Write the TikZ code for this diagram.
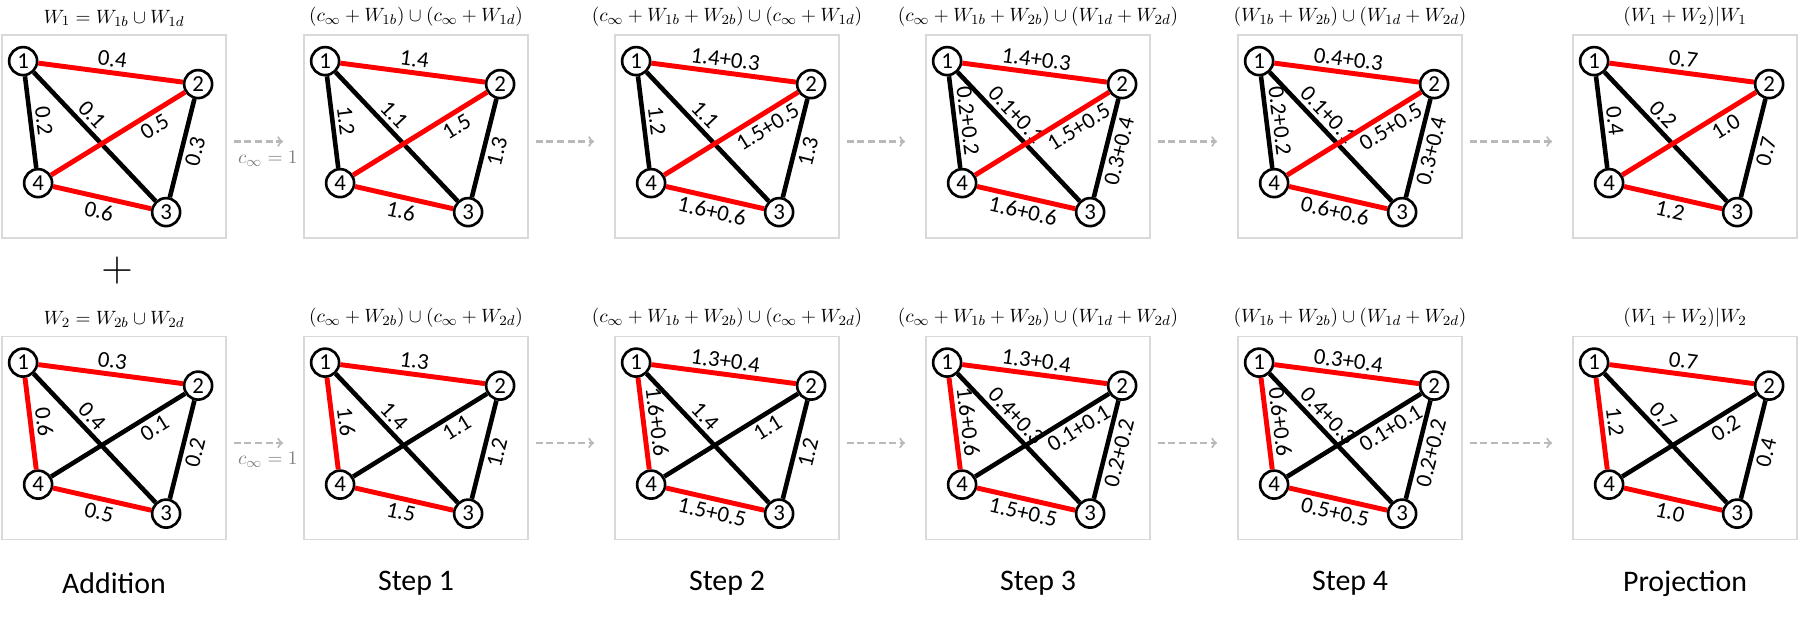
\documentclass[tikz,border=0pt]{standalone}
\usepackage{fontspec}
\setsansfont{Carlito}
\usetikzlibrary{positioning}

\tikzset{
  panelbox/.style={draw=black!15,line width=1pt,minimum width=4.48cm,minimum height=4.06cm,inner sep=0pt},
  vertex/.style={circle,draw,line width=1.5pt,fill=white,minimum size=0.56cm,inner sep=0pt,font=\sffamily\fontsize{13}{13}\selectfont},
  redge/.style={red,line width=2.8pt},
  kedge/.style={black,line width=2.6pt},
  wlabel/.style={text=black,font=\sffamily\fontsize{13}{13}\selectfont,sloped,inner sep=2pt},
  heading/.style={font=\fontsize{11}{13}\selectfont},
  stepname/.style={font=\sffamily\fontsize{17}{17}\selectfont},
  flow/.style={->,gray!55,line width=1.2pt,dashed,dash pattern=on 4pt off 2pt}
}

% one graph panel: #1 name, #2 position, #3 title, #4..#9 weights 12,14,13,24,23,43
\newcommand{\graphpanel}[9]{%
  \node[panelbox] (#1) at (#2) {};
  \node[heading,above=1pt of #1.north] (#1t) {$#3$};
  \node[vertex] (#1v1) at ([xshift=0.44cm,yshift=-0.54cm]#1.north west) {1};
  \node[vertex] (#1v2) at ([xshift=3.94cm,yshift=-1.0cm]#1.north west) {2};
  \node[vertex] (#1v4) at ([xshift=0.74cm,yshift=-2.98cm]#1.north west) {4};
  \node[vertex] (#1v3) at ([xshift=3.30cm,yshift=-3.56cm]#1.north west) {3};
  \draw[redge] (#1v1) -- (#1v2) node[wlabel,midway,above] {#4};
  \draw[\edgeA] (#1v4) -- (#1v1) node[wlabel,midway,above] {#5};
  \draw[kedge] (#1v1) -- (#1v3) node[wlabel,pos=0.4,above] {#6};
  \draw[\edgeB] (#1v4) -- (#1v2) node[wlabel,pos=0.72,below] {#7};
  \draw[kedge] (#1v3) -- (#1v2) node[wlabel,midway,below] {#8};
  \draw[redge] (#1v4) -- (#1v3) node[wlabel,midway,below] {#9};
}

\begin{document}
\begin{tikzpicture}

\useasboundingbox (0,0) rectangle (36,-12.8);

%top row
\def\edgeA{kedge}\def\edgeB{redge}
\graphpanel{a1}{2.28,-2.73}{W_1=W_{1b}\cup W_{1d}}{0.4}{0.2}{0.1}{0.5}{0.3}{0.6}
\graphpanel{a2}{8.32,-2.73}{(c_\infty+W_{1b})\cup(c_\infty+W_{1d})}{1.4}{1.2}{1.1}{1.5}{1.3}{1.6}
\graphpanel{a3}{14.54,-2.73}{(c_\infty+W_{1b}+W_{2b})\cup(c_\infty+W_{1d})}{1.4+0.3}{1.2}{1.1}{1.5+0.5}{1.3}{1.6+0.6}
\graphpanel{a4}{20.76,-2.73}{(c_\infty+W_{1b}+W_{2b})\cup(W_{1d}+W_{2d})}{1.4+0.3}{0.2+0.2}{0.1+0.1}{1.5+0.5}{0.3+0.4}{1.6+0.6}
\graphpanel{a5}{27.00,-2.73}{(W_{1b}+W_{2b})\cup(W_{1d}+W_{2d})}{0.4+0.3}{0.2+0.2}{0.1+0.1}{0.5+0.5}{0.3+0.4}{0.6+0.6}
\graphpanel{a6}{33.70,-2.73}{(W_1+W_2)|W_1}{0.7}{0.4}{0.2}{1.0}{0.7}{1.2}

%bottom row
\def\edgeA{redge}\def\edgeB{kedge}
\graphpanel{b1}{2.28,-8.76}{W_2=W_{2b}\cup W_{2d}}{0.3}{0.6}{0.4}{0.1}{0.2}{0.5}
\graphpanel{b2}{8.32,-8.76}{(c_\infty+W_{2b})\cup(c_\infty+W_{2d})}{1.3}{1.6}{1.4}{1.1}{1.2}{1.5}
\graphpanel{b3}{14.54,-8.76}{(c_\infty+W_{1b}+W_{2b})\cup(c_\infty+W_{2d})}{1.3+0.4}{1.6+0.6}{1.4}{1.1}{1.2}{1.5+0.5}
\graphpanel{b4}{20.76,-8.76}{(c_\infty+W_{1b}+W_{2b})\cup(W_{1d}+W_{2d})}{1.3+0.4}{1.6+0.6}{0.4+0.3}{0.1+0.1}{0.2+0.2}{1.5+0.5}
\graphpanel{b5}{27.00,-8.76}{(W_{1b}+W_{2b})\cup(W_{1d}+W_{2d})}{0.3+0.4}{0.6+0.6}{0.4+0.3}{0.1+0.1}{0.2+0.2}{0.5+0.5}
\graphpanel{b6}{33.70,-8.76}{(W_1+W_2)|W_2}{0.7}{1.2}{0.7}{0.2}{0.4}{1.0}

%arrows between panels
\foreach \r in {a,b}
  \foreach \i/\j in {1/2,2/3,3/4,4/5,5/6}
    \draw[flow] ([xshift=0.14cm,yshift=-0.1cm]\r\i.east) -- ([xshift=-0.4cm,yshift=-0.1cm]\r\j.west);

\node[gray,font=\fontsize{11}{13}\selectfont,anchor=west] (cinf1) at ([xshift=0.1cm,yshift=-0.44cm]a1.east) {$c_\infty=1$};
\node[gray,font=\fontsize{11}{13}\selectfont,anchor=west] (cinf2) at ([xshift=0.1cm,yshift=-0.44cm]b1.east) {$c_\infty=1$};

\node[font=\fontsize{28}{28}\selectfont] (plus) at (2.34,-5.42) {$+$};

%captions
\foreach \p/\t in {1/Addition,2/Step 1,3/Step 2,4/Step 3,5/Step 4,6/Projection}
  \node[stepname] (cap\p) at ([yshift=-0.86cm]b\p.south) {\t};

\end{tikzpicture}
\end{document}
